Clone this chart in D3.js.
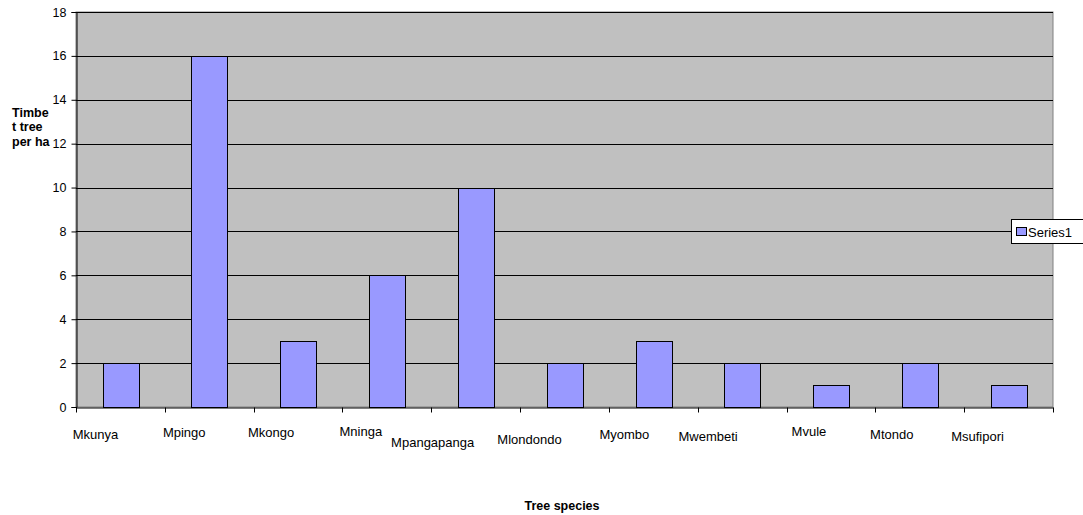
<!DOCTYPE html>
<html><head><meta charset="utf-8">
<script src="https://cdn.jsdelivr.net/npm/d3@7"></script>
<style>body{margin:0;background:#fff;}svg{display:block;font-family:"Liberation Sans",Arial,sans-serif;}</style>
</head><body>
<svg id="c" width="1083" height="515"></svg>
<script>
const categories = ["Mkunya","Mpingo","Mkongo","Mninga","Mpangapanga","Mlondondo","Myombo","Mwembeti","Mvule","Mtondo","Msufipori"];
const values = [2,16,3,6,10,2,3,2,1,2,1];
const yTicks = [0,2,4,6,8,10,12,14,16,18];
const seriesName = "Series1";
const yTitleLines = ["Timbe","t tree","per ha"];
const xTitle = "Tree species";
// layout tweaks for Excel-style staggered labels (dx, baseline y)
const labelDx = [-25,-25,-27,-26,-43,-35,-29,-34,-22,-28,-31];
const labelY = [439,437,437,436,447,444,439,441,436,439,441];

const svg = d3.select("#c");
const L=76, R=1053, T=12, B=407;
const x = d3.scaleBand().domain(categories).range([L,R]).paddingInner(0).paddingOuter(0);
const y = d3.scaleLinear().domain([0,18]).range([B,T]);

svg.append("rect").attr("x",L).attr("y",T).attr("width",R-L).attr("height",B-T)
  .attr("fill","#C0C0C0").attr("stroke","#808080").attr("stroke-width",1);

// gridlines
svg.append("g").selectAll("line").data(yTicks.filter(d=>d>0)).join("line")
  .attr("x1",L).attr("x2",R)
  .attr("y1",d=>Math.round(y(d))+0.5).attr("y2",d=>Math.round(y(d))+0.5)
  .attr("stroke","#000").attr("stroke-width",1);

// bars
const bw = x.bandwidth()*0.4;
svg.append("g").selectAll("rect").data(values).join("rect")
  .attr("x",(d,i)=>Math.round(x(categories[i])+x.bandwidth()/2-bw/2)+0.5)
  .attr("y",d=>Math.round(y(d))+0.5)
  .attr("width",Math.round(bw))
  .attr("height",d=>Math.round(y(0))-Math.round(y(d)))
  .attr("fill","#9999FF").attr("stroke","#000").attr("stroke-width",1);

// y axis
const ya = svg.append("g").attr("transform",`translate(${L+0.5},0)`)
  .call(d3.axisLeft(y).tickValues(yTicks).tickSize(5).tickPadding(5).tickFormat(d3.format("d")));
ya.select(".domain").attr("stroke","#000");
ya.selectAll(".tick line").attr("stroke","#000");
ya.selectAll(".tick text").attr("font-size","12.5px").attr("fill","#000")
  .attr("font-family","Liberation Sans, Arial, sans-serif");

// x axis
const xa = svg.append("g").attr("transform",`translate(0,${B+0.5})`)
  .call(d3.axisBottom(x).tickValues([]).tickSizeOuter(0));
xa.select(".domain").attr("stroke","#000");
const tickPos = categories.map(c=>x(c)).concat([R]);
xa.selectAll(".t").data(tickPos).join("line").attr("class","t")
  .attr("x1",d=>Math.round(d)+0.5).attr("x2",d=>Math.round(d)+0.5)
  .attr("y1",0).attr("y2",5).attr("stroke","#000");

svg.append("g").selectAll("text").data(categories).join("text")
  .attr("x",(d,i)=>x(d)+x.bandwidth()/2+labelDx[i])
  .attr("y",(d,i)=>labelY[i])
  .attr("text-anchor","middle").attr("font-size","13px").attr("fill","#000")
  .text(d=>d);

// titles
svg.append("g").selectAll("text").data(yTitleLines).join("text")
  .attr("x",12).attr("y",(d,i)=>117+i*14.3)
  .attr("font-size","12.5px").attr("font-weight","bold").attr("fill","#000").text(d=>d);
svg.append("text").attr("x",562).attr("y",510).attr("text-anchor","middle")
  .attr("font-size","12.5px").attr("font-weight","bold").attr("fill","#000").text(xTitle);

// legend
const lg = svg.append("g");
lg.append("rect").attr("x",1011.5).attr("y",219.5).attr("width",80).attr("height",24)
  .attr("fill","#fff").attr("stroke","#000");
lg.append("rect").attr("x",1016.5).attr("y",227.5).attr("width",10).attr("height",8)
  .attr("fill","#9999FF").attr("stroke","#000");
lg.append("text").attr("x",1028).attr("y",236.5).attr("font-size","13px").attr("fill","#000").text(seriesName);
</script>
</body></html>
